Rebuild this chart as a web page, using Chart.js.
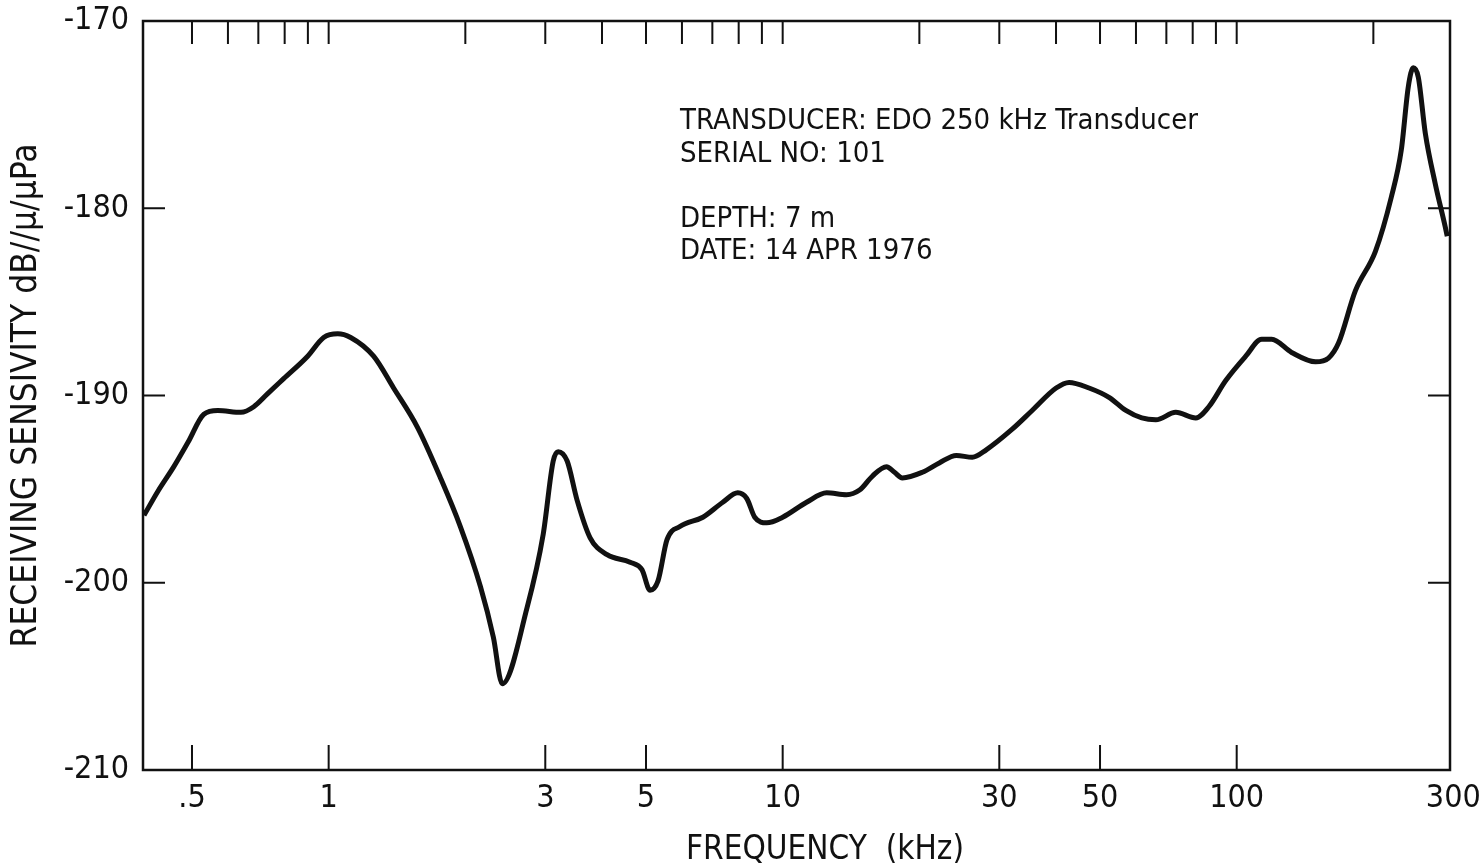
<!DOCTYPE html>
<html>
<head>
<meta charset="utf-8">
<title>Receiving Sensitivity</title>
<script src="https://cdn.jsdelivr.net/npm/chart.js@4.4.0/dist/chart.umd.min.js"></script>
<style>
  html, body { margin: 0; padding: 0; background: #fff; }
  #wrap { width: 1483px; height: 868px; position: relative; }
</style>
</head>
<body>
<div id="wrap"><canvas id="myChart"></canvas></div>
<script>
//Receiving sensitivity curve of the EDO 250 kHz transducer, log frequency axis

const FONT = '"DejaVu Sans Condensed", "Liberation Sans Narrow", sans-serif';
const INK = '#111';

//frequency (kHz)
const freqKHz = [0.392, 0.421, 0.456, 0.490, 0.531, 0.570, 0.641, 0.684, 0.734, 0.796,
    0.899, 0.975, 1.047, 1.118, 1.256, 1.390, 1.569, 1.763, 1.950, 2.159,
    2.305, 2.412, 2.737, 2.969, 3.123, 3.203, 3.352, 3.526, 3.766, 4.105,
    4.611, 4.898, 5.103, 5.314, 5.562, 5.937, 6.672, 7.381, 7.964, 8.335,
    8.679, 9.223, 10.0, 11.29, 12.50, 13.82, 14.77, 15.77, 16.93, 17.63,
    18.35, 20.31, 22.13, 24.13, 26.16, 28.08, 32.03, 35.44, 40.02, 42.74,
    47.29, 52.33, 57.0, 61.8, 66.37, 73.43, 81.27, 86.81, 94.6, 104.7,
    113.5, 119.4, 132.1, 149.2, 159.3, 167.6, 182.6, 202.1, 219.1, 230.4,
    238.8, 244.9, 251.2, 260.3, 273.8, 288.0, 290.9];

//receiving sensitivity (dB) at those frequencies
const sensitivity = [-196.4, -195.1, -193.8, -192.5, -191.0, -190.8, -190.9, -190.6, -189.9, -189.1,
    -187.9, -186.9, -186.7, -186.9, -187.9, -189.6, -191.7, -194.4, -197.0, -200.2,
    -202.9, -205.4, -201.3, -197.4, -193.5, -193.0, -193.5, -195.6, -197.6, -198.5,
    -198.9, -199.3, -200.4, -199.9, -197.7, -197.0, -196.5, -195.7, -195.2, -195.5,
    -196.5, -196.8, -196.5, -195.7, -195.2, -195.3, -195.05, -194.3, -193.8, -194.1,
    -194.4, -194.1, -193.6, -193.2, -193.3, -192.9, -191.8, -190.8, -189.6, -189.3,
    -189.6, -190.1, -190.8, -191.2, -191.3, -190.9, -191.2, -190.6, -189.2, -187.9,
    -187.0, -187.0, -187.7, -188.2, -188.0, -187.2, -184.4, -182.3, -179.4, -176.9,
    -173.5, -172.5, -173.0, -176.0, -178.7, -181.0, -181.5];

const xTickValues = [0.5, 1, 3, 5, 10, 30, 50, 100, 300];      //labelled bottom ticks
const xTickLabels = ['.5', '1', '3', '5', '10', '30', '50', '100', '300'];
const topTickValues = [0.5, 0.6, 0.7, 0.8, 0.9, 1, 2, 3, 4, 5, 6, 7, 8, 9, 10,
    20, 30, 40, 50, 60, 70, 80, 90, 100, 200];                  //top axis minor ticks
const yTickValues = [-180, -190, -200];                         //inner ticks on both sides

const xTitle = 'FREQUENCY  (kHz)';
const yTitle = 'RECEIVING SENSIVITY dB//\u03bc/\u03bcPa';
const infoLines = ['TRANSDUCER: EDO 250 kHz Transducer', 'SERIAL NO: 101', '', 'DEPTH: 7 m', 'DATE: 14 APR 1976'];

//frame, inward tick marks, x title and the text block
const frameTicks = {
    id: 'frameTicks',
    afterDraw(chart) {
        const {ctx, chartArea: a, scales: {x, y}} = chart;
        ctx.save();
        ctx.strokeStyle = INK;
        ctx.lineWidth = 2.5;
        ctx.strokeRect(a.left, a.top, a.right - a.left, a.bottom - a.top);

        ctx.lineWidth = 2;
        ctx.beginPath();
        xTickValues.forEach(v => {
            if (v >= x.max) return;
            const px = x.getPixelForValue(v);
            ctx.moveTo(px, a.bottom);
            ctx.lineTo(px, a.bottom - 25);
        });
        topTickValues.forEach(v => {
            const px = x.getPixelForValue(v);
            ctx.moveTo(px, a.top);
            ctx.lineTo(px, a.top + 23);
        });
        yTickValues.forEach(v => {
            const py = y.getPixelForValue(v);
            ctx.moveTo(a.left, py);
            ctx.lineTo(a.left + 22, py);
            ctx.moveTo(a.right, py);
            ctx.lineTo(a.right - 22, py);
        });
        ctx.stroke();

        ctx.fillStyle = INK;
        ctx.font = '33px ' + FONT;
        ctx.textAlign = 'center';
        ctx.textBaseline = 'middle';
        ctx.fillText(xTitle, 825, 850);

        ctx.font = '29px ' + FONT;
        ctx.textAlign = 'left';
        ctx.textBaseline = 'alphabetic';
        infoLines.forEach((line, i) => {
            ctx.fillText(line, a.left + 537, a.top + 108 + i * 32.5);
        });
        ctx.restore();
    }
};

const ctx = document.getElementById('myChart');
const myChart = new Chart(ctx, {
    type: 'line',
    data: {
        datasets: [{
            data: freqKHz.map((f, i) => ({x: f, y: sensitivity[i]})),
            borderColor: INK,
            borderWidth: 5,
            pointRadius: 0,
            cubicInterpolationMode: 'monotone',
            fill: false
        }]
    },
    options: {
        responsive: true,
        maintainAspectRatio: false,
        animation: false,
        layout: {
            padding: {top: 21, right: 33, bottom: 0, left: 0}
        },
        plugins: {
            legend: {display: false},
            tooltip: {enabled: false}
        },
        scales: {
            x: {
                type: 'logarithmic',
                min: 0.39,
                max: 295,
                grid: {display: false, drawTicks: false},
                border: {display: false},
                afterBuildTicks: s => { s.ticks = xTickValues.map(v => ({value: v})); },
                afterFit: s => {
                    s.height = 98;
                    s.paddingLeft = 0;
                    s.paddingRight = 0;
                },
                ticks: {
                    autoSkip: false,
                    maxRotation: 0,
                    padding: 13,
                    color: INK,
                    font: {family: FONT, size: 32, lineHeight: 1},
                    callback: (v, i) => xTickLabels[i]
                }
            },
            y: {
                min: -210,
                max: -170,
                grid: {display: false, drawTicks: false},
                border: {display: false},
                afterFit: s => {
                    s.width = 143;
                    s.paddingTop = 0;
                    s.paddingBottom = 0;
                },
                ticks: {
                    stepSize: 10,
                    padding: 14,
                    color: INK,
                    font: {family: FONT, size: 32, lineHeight: 1}
                },
                title: {
                    display: true,
                    text: yTitle,
                    color: INK,
                    font: {family: FONT, size: 35, lineHeight: 1},
                    padding: {top: 9, bottom: 0}
                }
            }
        }
    },
    plugins: [frameTicks]
});
</script>
</body>
</html>
